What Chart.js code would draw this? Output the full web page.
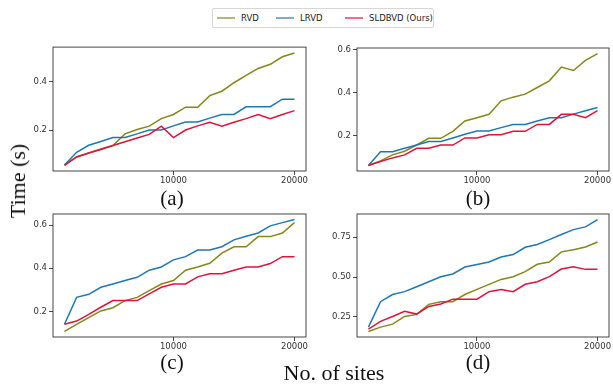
<!DOCTYPE html>
<html>
<head>
<meta charset="utf-8">
<script src="https://cdn.jsdelivr.net/npm/chart.js@4.4.0/dist/chart.umd.min.js"></script>
<style>
  body { margin: 0; background: #fff; }
  #wrap { position: relative; width: 613px; height: 385px; overflow: hidden; }
  canvas { position: absolute; }
  .cap { position: absolute; font-family: "Liberation Serif", serif; font-size: 21px; color: #111; transform: translateX(-50%); white-space: nowrap; }
  #legend { position: absolute; left: 212px; top: 8px; width: 220px; height: 18px; border: 1px solid #d6d6d6; border-radius: 2px;
            font-family: "DejaVu Sans", sans-serif; font-size: 8.5px; color: #222; }
  .item { position: absolute; top: 3px; line-height: 12px; white-space: nowrap; }
  .swatch { position: absolute; top: 8px; height: 2px; width: 18px; }
</style>
</head>
<body>
<div id="wrap">
  <div id="legend"></div>
  <canvas id="ca" width="312" height="150" style="left:0px;top:40px"></canvas>
  <canvas id="cb" width="303" height="150" style="left:310px;top:40px"></canvas>
  <canvas id="cc" width="312" height="150" style="left:0px;top:205px"></canvas>
  <canvas id="cd" width="303" height="150" style="left:310px;top:205px"></canvas>
  <div class="cap" style="left:172px;top:186px">(a)</div>
  <div class="cap" style="left:478px;top:186px">(b)</div>
  <div class="cap" style="left:172px;top:350px">(c)</div>
  <div class="cap" style="left:478px;top:350px">(d)</div>
  <div class="cap" style="left:334px;top:360px;font-size:22px">No. of sites</div>
  <div class="cap" style="left:18px;top:168px;font-size:22px;transform:translateX(-50%) rotate(-90deg)">Time (s)</div>
</div>
<script>
const seriesNames = ["RVD", "LRVD", "SLDBVD (Ours)"]
const seriesColors = ["#86861a", "#1f77b4", "#dc143c"]
const legendColors = ["rgba(134,134,26,0.6)", "rgba(31,119,180,0.6)", "rgba(220,20,60,0.6)"]

const sites = [1000, 2000, 3000, 4000, 5000, 6000, 7000, 8000, 9000, 10000,
               11000, 12000, 13000, 14000, 15000, 16000, 17000, 18000, 19000, 20000]
const xTicks = [10000, 20000]

// (a)
const rvdA  = [0.057, 0.090, 0.106, 0.123, 0.137, 0.185, 0.203, 0.217, 0.248, 0.265, 0.295, 0.295, 0.343, 0.361, 0.396, 0.426, 0.455, 0.472, 0.503, 0.519]
const lrvdA = [0.057, 0.109, 0.138, 0.154, 0.170, 0.170, 0.185, 0.201, 0.201, 0.218, 0.234, 0.234, 0.250, 0.265, 0.265, 0.297, 0.297, 0.297, 0.328, 0.328]
const oursA = [0.055, 0.090, 0.106, 0.121, 0.137, 0.153, 0.168, 0.183, 0.217, 0.170, 0.201, 0.218, 0.233, 0.217, 0.233, 0.248, 0.265, 0.248, 0.265, 0.281]
// (b)
const rvdB  = [0.060, 0.081, 0.109, 0.126, 0.155, 0.186, 0.186, 0.219, 0.267, 0.282, 0.298, 0.361, 0.378, 0.392, 0.423, 0.454, 0.518, 0.502, 0.549, 0.581]
const lrvdB = [0.060, 0.124, 0.124, 0.140, 0.155, 0.171, 0.171, 0.188, 0.205, 0.220, 0.220, 0.236, 0.251, 0.251, 0.267, 0.282, 0.282, 0.299, 0.315, 0.330]
const oursB = [0.060, 0.078, 0.095, 0.109, 0.140, 0.140, 0.155, 0.155, 0.188, 0.188, 0.203, 0.203, 0.219, 0.219, 0.251, 0.251, 0.298, 0.298, 0.282, 0.315]
// (c)
const rvdC  = [0.107, 0.140, 0.171, 0.202, 0.217, 0.250, 0.265, 0.296, 0.327, 0.343, 0.391, 0.406, 0.423, 0.470, 0.500, 0.500, 0.547, 0.547, 0.564, 0.612]
const lrvdC = [0.140, 0.265, 0.279, 0.312, 0.327, 0.343, 0.358, 0.391, 0.406, 0.439, 0.454, 0.485, 0.485, 0.500, 0.532, 0.549, 0.564, 0.597, 0.612, 0.626]
const oursC = [0.140, 0.155, 0.186, 0.219, 0.250, 0.250, 0.250, 0.281, 0.312, 0.327, 0.327, 0.360, 0.375, 0.375, 0.391, 0.406, 0.406, 0.422, 0.454, 0.454]
// (d)
const rvdD  = [0.158, 0.185, 0.204, 0.252, 0.265, 0.328, 0.345, 0.345, 0.390, 0.422, 0.454, 0.485, 0.502, 0.534, 0.580, 0.594, 0.658, 0.672, 0.689, 0.720]
const lrvdD = [0.185, 0.345, 0.390, 0.408, 0.439, 0.470, 0.502, 0.519, 0.563, 0.578, 0.594, 0.626, 0.641, 0.687, 0.704, 0.735, 0.767, 0.798, 0.815, 0.861]
const oursD = [0.172, 0.221, 0.252, 0.284, 0.267, 0.315, 0.330, 0.361, 0.361, 0.361, 0.408, 0.422, 0.408, 0.454, 0.470, 0.502, 0.550, 0.565, 0.548, 0.548]

const yTicksA = [0.2, 0.4]
const yTicksB = [0.2, 0.4, 0.6]
const yTicksC = [0.2, 0.4, 0.6]
const yTicksD = [0.25, 0.5, 0.75]

// legend
var legend = document.getElementById("legend")
var legendX = [4, 63, 132]
for (let i = 0; i < seriesNames.length; i++) {
    var sw = document.createElement("div")
    sw.className = "swatch"
    sw.style.left = legendX[i] + "px"
    sw.style.background = legendColors[i]
    legend.appendChild(sw)
    var t = document.createElement("div")
    t.className = "item"
    t.style.left = (legendX[i] + 24) + "px"
    t.textContent = seriesNames[i]
    legend.appendChild(t)
}

const boxPlugin = {
    id: "box",
    afterDraw(chart) {
        const a = chart.chartArea
        const ctx = chart.ctx
        ctx.save()
        ctx.strokeStyle = "#333"
        ctx.lineWidth = 0.9
        ctx.strokeRect(a.left, a.top, a.right - a.left, a.bottom - a.top)
        ctx.restore()
    }
}

function makePanel(id, series, yTicks, yMin, yMax, digits, axisW, pad, xAxisH) {
    var datasets = []
    for (let i = 0; i < series.length; i++) {
        datasets.push({
            label: seriesNames[i],
            data: sites.map((x, j) => ({x: x, y: series[i][j]})),
            borderColor: seriesColors[i],
            borderWidth: 1.5,
            pointRadius: 0,
            tension: 0,
            fill: false,
            order: 3 - i
        })
    }
    var tickFont = {family: "DejaVu Sans", size: 8.5}
    new Chart(document.getElementById(id), {
        type: "line",
        data: {datasets: datasets},
        plugins: [boxPlugin],
        options: {
            responsive: false,
            animation: false,
            layout: {padding: pad},
            plugins: {legend: {display: false}, tooltip: {enabled: false}},
            scales: {
                x: {
                    type: "linear",
                    min: 50, max: 20950,
                    afterBuildTicks: axis => { axis.ticks = xTicks.map(v => ({value: v})) },
                    afterFit: axis => { axis.height = xAxisH },
                    grid: {drawOnChartArea: false, drawTicks: true, tickLength: 4, color: "#333", lineWidth: 0.9},
                    border: {display: false},
                    ticks: {font: tickFont, color: "#333", padding: 1, maxRotation: 0,
                            callback: v => String(v)}
                },
                y: {
                    min: yMin, max: yMax,
                    afterBuildTicks: axis => { axis.ticks = yTicks.map(v => ({value: v})) },
                    afterFit: axis => { axis.width = axisW },
                    grid: {drawOnChartArea: false, drawTicks: true, tickLength: 4, color: "#333", lineWidth: 0.9},
                    border: {display: false},
                    ticks: {font: tickFont, color: "#333", padding: 2,
                            callback: v => v.toFixed(digits)}
                }
            }
        }
    })
}

makePanel("ca", [rvdA, lrvdA, oursA], yTicksA, 0.032, 0.543, 1, 53, {top: 7, right: 6}, 19)
makePanel("cb", [rvdB, lrvdB, oursB], yTicksB, 0.034, 0.607, 1, 47, {top: 8, right: 4}, 19)
makePanel("cc", [rvdC, lrvdC, oursC], yTicksC, 0.081, 0.652, 1, 53, {top: 9, right: 6}, 18)
makePanel("cd", [rvdD, lrvdD, oursD], yTicksD, 0.123, 0.896, 2, 47, {top: 9, right: 4}, 18)
</script>
</body>
</html>
